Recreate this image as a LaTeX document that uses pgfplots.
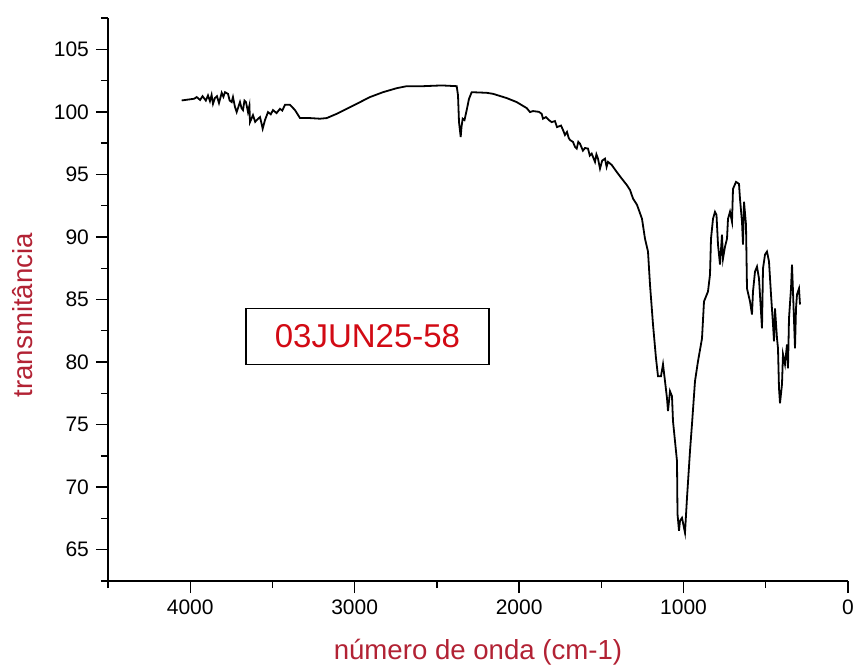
\documentclass[border=0pt]{standalone}
\usepackage{pgfplots}
\pgfplotsset{compat=1.18}
\usepackage{fontspec}
\setmainfont{Liberation Sans}
\definecolor{labred}{RGB}{178,34,52}
\definecolor{boxred}{RGB}{210,10,20}

\begin{document}
\begin{tikzpicture}
\path[use as bounding box] (-54pt,-43.5pt) rectangle (373.5pt,290.5pt);
\begin{axis}[
  scale only axis, width=370pt, height=281.5pt,
  x dir=reverse, xmin=0, xmax=4500, ymin=62.5, ymax=107.5,
  axis x line*=bottom, axis y line*=left,
  axis line style={-, line width=0.7pt},
  xtick={0,1000,...,4000}, minor xtick={500,1500,2500,3500,4500},
  ytick={65,70,...,105}, minor ytick={62.5,67.5,...,107.5},
  tick align=outside, major tick length=6pt, minor tick length=3.5pt,
  tick style={black, line width=0.7pt},
  tick label style={font=\fontsize{10.5}{12}\selectfont},
  /pgf/number format/assume math mode=true,
  /pgf/number format/1000 sep={},
  xlabel={número de onda (cm-1)}, ylabel={transmitância},
  label style={font=\fontsize{13.8}{16}\selectfont, text=labred},
  xlabel style={at={(axis description cs:0.5,-0.126)}, anchor=center},
  ylabel style={at={(axis description cs:-0.116,0.472)}, anchor=center},
]
\addplot[black, line width=0.9pt] coordinates {
(4051.9,100.91) (4001.4,101.00) (3975,101.05) (3960.6,101.18) (3940,100.95)
(3925,101.25) (3905,100.9) (3891.9,101.31) (3880,100.85) (3870,101.35)
(3861.5,100.64) (3850,101.1) (3837.2,101.25) (3825,100.7) (3808.6,101.52)
(3798,101.2) (3788.5,101.57) (3770.3,101.44) (3760,100.9) (3747.8,100.78)
(3740.0,101.18) (3728,100.4) (3717.4,99.98) (3697.3,100.78) (3688,100.3)
(3679.1,100.14) (3670,100.9) (3660.8,100.78) (3648.7,99.98) (3640,100.5)
(3636.5,99.18) (3618.3,99.74) (3605,99.2) (3595.8,99.34) (3575.7,99.58)
(3565,99.0) (3559.3,98.65) (3545.3,99.34) (3527.0,99.98) (3510,99.8) (3496.6,100.14)
(3475,99.9) (3454.1,100.24) (3440,100.1)
(3423.7,100.56) (3393.3,100.56) (3362.8,100.14) (3332.4,99.50) (3271.6,99.50)
(3210.8,99.45) (3170.1,99.50) (3109.3,99.84) (3048.5,100.24) (2987.6,100.64)
(2906.8,101.18) (2827.7,101.57) (2744.4,101.89) (2683.6,102.05) (2584.5,102.05)
(2470.7,102.11) (2379.5,102.05) (2371.6,101.33) (2365.5,99.18) (2355.2,97.99)
(2350.4,98.78) (2343.1,99.45) (2332.1,99.34) (2318.7,100.14) (2304.7,101.04)
(2288.3,101.57) (2197.1,101.52) (2158.8,101.44) (2075.5,101.10) (2014.7,100.78)
(1953.9,100.30) (1933.8,99.98) (1915.6,100.06) (1880,100.0) (1862.6,99.84) (1854.7,99.45)
(1836.5,99.58) (1815,99.3) (1801.8,99.18) (1781.8,99.26) (1769.6,98.78) (1745,98.9) (1733.1,98.55)
(1720.9,98.15) (1708.7,98.39) (1698,97.9) (1690.5,97.75) (1672.3,97.59) (1660,97.2) (1649.8,97.06)
(1640,97.6) (1629.7,97.45) (1612,96.9) (1599.3,97.11) (1581.1,97.06) (1570,96.5) (1558.6,96.66) (1538.5,96.00)
(1530,96.6) (1520.3,96.26) (1508.1,95.46) (1495,96.1) (1477.7,96.26) (1468,95.6) (1459.5,96.00) (1437.0,95.76)
(1406.6,95.20) (1376.2,94.67) (1345.7,94.16) (1325.7,93.76) (1307.4,93.07)
(1283.1,92.57) (1252.7,91.45) (1234.5,89.86) (1216.2,88.83) (1204.1,86.20)
(1185.8,83.01) (1167.6,80.30) (1155.4,78.87) (1137.2,78.87) (1125.0,79.82)
(1112.8,78.47) (1100.7,77.11) (1094.6,76.08) (1082.4,77.67) (1070.3,77.27)
(1064.2,75.28) (1039.9,72.09) (1036.8,67.87) (1027.7,66.51) (1021.6,67.31)
(1009.5,67.55) (991.2,66.36) (979.1,69.14) (960.8,72.89) (948.7,75.04)
(930.4,78.47) (912.2,80.06) (887.8,81.89) (875.7,84.84) (851.4,85.64)
(839.2,86.99) (833.1,89.86) (820.9,91.45) (808.8,92.01) (799.7,91.77)
(790.5,89.38) (778.4,87.79) (766.2,90.18) (760.1,88.27) (747.9,89.22)
(735.8,89.86) (729.7,91.45) (717.6,92.01) (705.4,91.21) (699.3,93.84)
(681.1,94.40) (662.8,94.24) (656.8,93.05) (644.6,91.21) (638.5,89.38)
(632.4,92.81) (620.3,90.98) (614.2,85.88) (595.9,84.84) (583.8,83.80)
(577.7,85.64) (565.5,87.23) (553.4,87.63) (541.2,86.67) (523.0,82.69)
(516.9,87.47) (504.7,88.59) (492.6,88.83) (480.4,88.03) (468.2,85.40)
(456.1,83.01) (450.0,81.65) (443.9,84.28) (431.8,81.89) (425.7,81.10)
(419.6,77.91) (413.5,76.71) (401.4,78.23) (395.3,80.62) (383.1,79.82)
(370.9,81.41) (364.9,79.50) (358.8,83.49) (346.6,85.88) (340.5,87.79)
(334.5,85.64) (322.3,81.10) (316.2,84.28) (310.1,85.40) (298.0,85.88)
(291.9,84.60)
};
\node[draw, line width=0.6pt, minimum width=121.5pt, minimum height=28pt,
  text=boxred, font=\fontsize{16.5}{18}\selectfont] at (axis cs:2922,82.05) {03JUN25-58};
\end{axis}
\end{tikzpicture}
\end{document}
